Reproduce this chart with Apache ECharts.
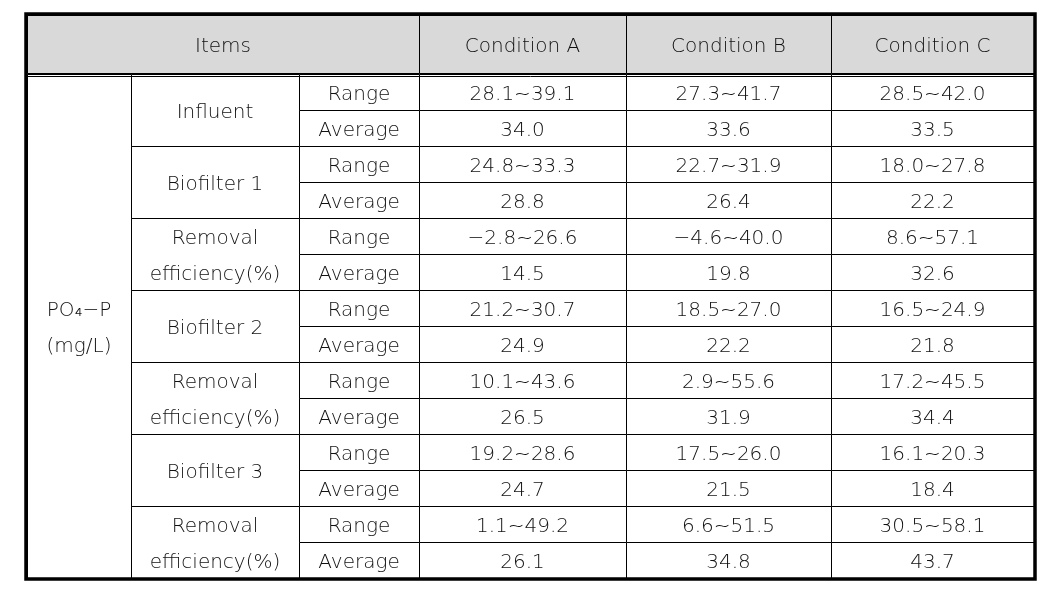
<!DOCTYPE html>
<html>
<head>
<meta charset="utf-8">
<script src="https://cdn.jsdelivr.net/npm/echarts@6/dist/echarts.min.js"></script>
<style>html,body{margin:0;padding:0;background:#fff;}#c{width:1054px;height:590px;}</style>
</head>
<body>
<div id="c"></div>
<script>
// ---- data ----
const headerItems = 'Items';
const conditions = ['Condition A', 'Condition B', 'Condition C'];
const parameterLabel = 'PO₄−P\n(mg/L)';
const groups = ['Influent', 'Biofilter 1', 'Removal\nefficiency(%)', 'Biofilter 2', 'Removal\nefficiency(%)', 'Biofilter 3', 'Removal\nefficiency(%)'];
const statLabels = ['Range', 'Average'];

const rangeMinA = [28.1, 24.8, -2.8, 21.2, 10.1, 19.2, 1.1];
const rangeMaxA = [39.1, 33.3, 26.6, 30.7, 43.6, 28.6, 49.2];
const averageA  = [34.0, 28.8, 14.5, 24.9, 26.5, 24.7, 26.1];

const rangeMinB = [27.3, 22.7, -4.6, 18.5, 2.9, 17.5, 6.6];
const rangeMaxB = [41.7, 31.9, 40.0, 27.0, 55.6, 26.0, 51.5];
const averageB  = [33.6, 26.4, 19.8, 22.2, 31.9, 21.5, 34.8];

const rangeMinC = [28.5, 18.0, 8.6, 16.5, 17.2, 16.1, 30.5];
const rangeMaxC = [42.0, 27.8, 57.1, 24.9, 45.5, 20.3, 58.1];
const averageC  = [33.5, 22.2, 32.6, 21.8, 34.4, 18.4, 43.7];

// ---- layout (table units on hidden axes) ----
const TW = 1007, TH = 563;
const colEdges = [0, 104, 272, 392, 599, 804, 1007];
const headerH = 58, bodyTop = 59, rowH = 36;

const condData = [
  [rangeMinA, rangeMaxA, averageA],
  [rangeMinB, rangeMaxB, averageB],
  [rangeMinC, rangeMaxC, averageC]
];
function fmt(v) { return (v < 0 ? '−' + Math.abs(v).toFixed(1) : v.toFixed(1)); }

const cells = [];
cells.push({ value: [0, colEdges[3], 0, headerH], text: headerItems, fill: '#d9d9d9' });
conditions.forEach((c, i) => cells.push({ value: [colEdges[3 + i], colEdges[4 + i], 0, headerH], text: c, fill: '#d9d9d9' }));
cells.push({ value: [0, colEdges[1], bodyTop, TH], text: parameterLabel });
groups.forEach((g, k) => {
  const gy = bodyTop + k * 2 * rowH;
  cells.push({ value: [colEdges[1], colEdges[2], gy, gy + 2 * rowH], text: g, lh: rowH });
  statLabels.forEach((s, r) => {
    const ry = gy + r * rowH;
    cells.push({ value: [colEdges[2], colEdges[3], ry, ry + rowH], text: s });
    condData.forEach((cd, ci) => {
      const t = r === 0 ? fmt(cd[0][k]) + '~' + fmt(cd[1][k]) : fmt(cd[2][k]);
      cells.push({ value: [colEdges[3 + ci], colEdges[4 + ci], ry, ry + rowH], text: t });
    });
  });
});
cells.push({ value: [0, TW, bodyTop + 2, bodyTop + 2], kind: 'line' });
cells.push({ value: [0, TW, 0, TH], kind: 'border' });

const FONT = 'DejaVu Sans';
const chart = echarts.init(document.getElementById('c'), null, { renderer: 'canvas' });
chart.setOption({
  backgroundColor: '#ffffff',
  animation: false,
  grid: { left: 27, top: 15, width: TW, height: TH, show: false },
  xAxis: { type: 'value', min: 0, max: TW, show: false },
  yAxis: { type: 'value', min: 0, max: TH, inverse: true, show: false },
  series: [{
    type: 'custom',
    silent: true,
    clip: false,
    data: cells,
    renderItem: function (params, api) {
      const item = cells[params.dataIndex];
      const p0 = api.coord([api.value(0), api.value(2)]);
      const p1 = api.coord([api.value(1), api.value(3)]);
      const x0 = Math.round(p0[0]), y0 = Math.round(p0[1]);
      const x1 = Math.round(p1[0]), y1 = Math.round(p1[1]);
      if (item.kind === 'line') {
        return { type: 'line', shape: { x1: x0, y1: y0 + 0.5, x2: x1, y2: y0 + 0.5 }, style: { stroke: '#000', lineWidth: 1 } };
      }
      if (item.kind === 'border') {
        return { type: 'rect', shape: { x: x0 - 1, y: y0 - 1, width: x1 - x0 + 2, height: y1 - y0 + 2 }, style: { fill: null, stroke: '#000', lineWidth: 3.5 } };
      }
      return {
        type: 'group',
        children: [
          { type: 'rect', shape: { x: x0 + 0.5, y: y0 + 0.5, width: x1 - x0, height: y1 - y0 },
            style: { fill: item.fill || '#fff', stroke: '#000', lineWidth: 1 } },
          { type: 'text', x: (x0 + x1) / 2, y: (y0 + y1) / 2 + 3,
            style: { text: item.text, fill: '#111111',
              fontFamily: FONT, fontSize: 20, fontWeight: 200,
              lineHeight: item.lh || 36, align: 'center', verticalAlign: 'middle' } }
        ]
      };
    }
  }]
});
</script>
</body>
</html>
